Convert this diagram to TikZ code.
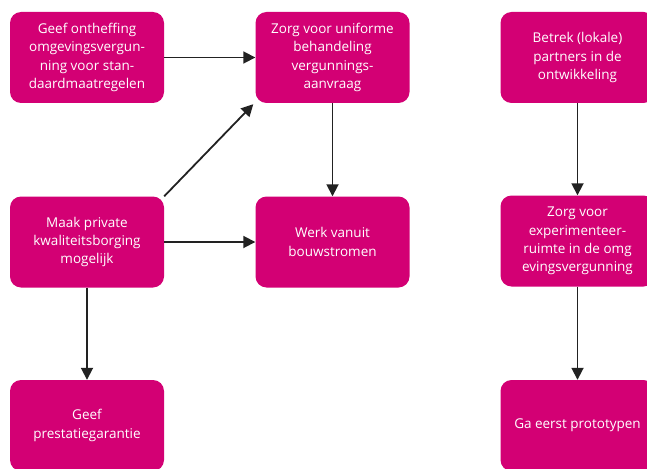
\documentclass[tikz,border=0pt]{standalone}
\usepackage{fontspec}
\setmainfont{Open Sans}
\usetikzlibrary{arrows.meta}
\definecolor{mag}{RGB}{211,0,116}
\definecolor{arr}{RGB}{34,34,34}
\begin{document}
\begin{tikzpicture}[x=1pt,y=-1pt,
 box/.style={fill=mag, rounded corners=11pt, text=white, align=center,
   font=\fontsize{13.5}{18.2}\selectfont, minimum width=154pt, minimum height=91pt,
   inner sep=0pt, draw=none},
 conn/.style={draw=arr, line width=1.8pt, -{Triangle[length=12pt,width=12pt]}}]
\useasboundingbox (0,0) rectangle (647,468);
\clip (0,0) rectangle (647,468);
\node[box] (a) at (87,57.5) {Geef ontheffing\\omgevingsvergun-\\ning voor stan-\\daardmaatregelen};
\node[box] (b) at (332.5,57.5) {Zorg voor uniforme\\behandeling\\vergunnings-\\aanvraag};
\node[box] (c) at (577.5,57.5) {Betrek (lokale)\\partners in de\\ontwikkeling};
\node[box] (d) at (87,242) {Maak private\\kwaliteitsborging\\mogelijk};
\node[box] (e) at (332.5,242) {Werk vanuit\\bouwstromen};
\node[box] (f) at (577.5,241) {Zorg voor\\experimenteer-\\ruimte in de omg\\evingsvergunning};
\node[box] (g) at (87,425.5) {Geef\\prestatiegarantie};
\node[box] (h) at (577.5,425.5) {Ga eerst prototypen};
\draw[conn] (a.east) -- (b.west);
\draw[conn] (d.north east) -- ([shift={(-2,1)}]b.south west);
\draw[conn] (d.east) -- (e.west);
\draw[conn] (b.south) -- (e.north);
\draw[conn] (d.south) -- (g.north);
\draw[conn] (c.south) -- (f.north);
\draw[conn] (f.south) -- (h.north);
\end{tikzpicture}
\end{document}
